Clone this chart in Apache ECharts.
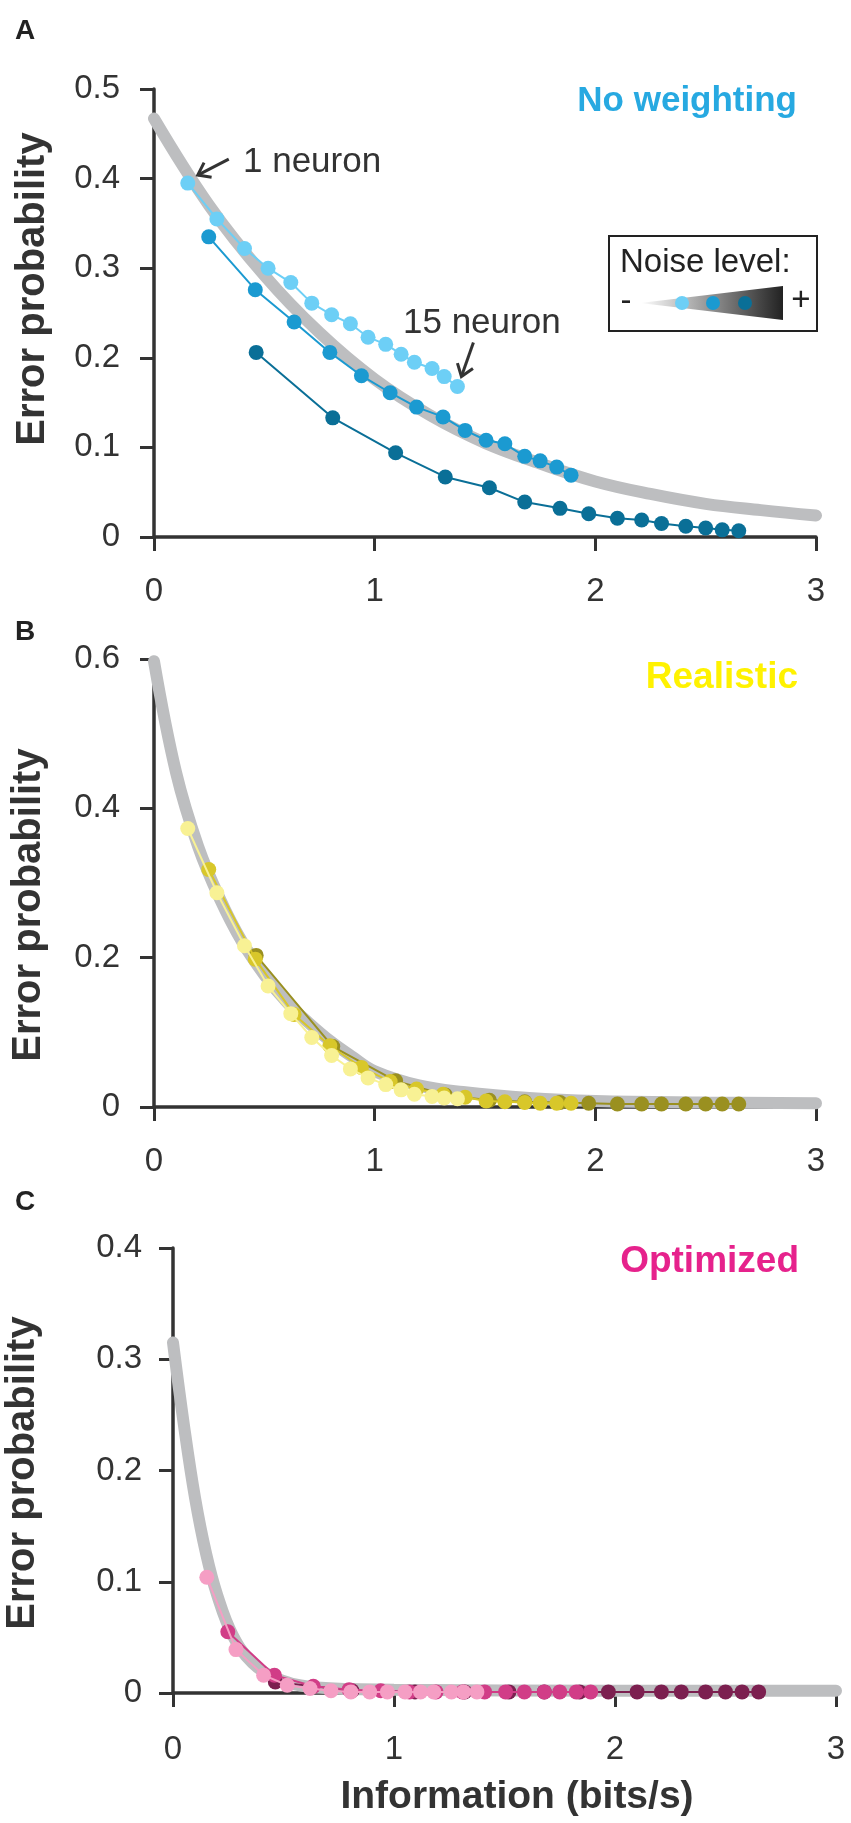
<!DOCTYPE html>
<html>
<head>
  <meta charset="utf-8">
  <title>Error probability vs information</title>
  <script src="https://cdn.jsdelivr.net/npm/echarts@6.0.0/dist/echarts.min.js"></script>
  <style>html, body { margin: 0; padding: 0; background: #fff; }</style>
</head>
<body>
  <div id="main" style="width:851px; height:1823px;"></div>
  <script type="text/javascript">
    // information (bits/s) of each population size, per noise level
    const xLow = [0.153, 0.285, 0.41, 0.517, 0.62, 0.715, 0.805, 0.89, 0.97, 1.05, 1.12, 1.18, 1.26, 1.315, 1.375];
    const xMid = [0.248, 0.459, 0.635, 0.797, 0.94, 1.07, 1.19, 1.31, 1.41, 1.505, 1.59, 1.68, 1.75, 1.825, 1.89];
    const xHigh = [0.463, 0.81, 1.095, 1.32, 1.52, 1.68, 1.84, 1.97, 2.10, 2.21, 2.30, 2.41, 2.50, 2.575, 2.65];

    // A: no weighting
    const aLow = [0.395, 0.355, 0.322, 0.300, 0.284, 0.261, 0.248, 0.238, 0.223, 0.215, 0.204, 0.195, 0.188, 0.179, 0.168];
    const aMid = [0.335, 0.276, 0.240, 0.206, 0.180, 0.161, 0.145, 0.134, 0.119, 0.108, 0.104, 0.090, 0.085, 0.078, 0.069];
    const aHigh = [0.206, 0.133, 0.094, 0.067, 0.055, 0.039, 0.032, 0.026, 0.021, 0.019, 0.015, 0.012, 0.010, 0.008, 0.007];
    const aGrayX = [0, 0.25, 0.5, 0.75, 1, 1.25, 1.5, 1.75, 2, 2.25, 2.5, 2.75, 3];
    const aGrayY = [0.467, 0.37, 0.292, 0.228, 0.176, 0.136, 0.105, 0.082, 0.062, 0.048, 0.037, 0.030, 0.024];

    // B: realistic
    const bLow = [0.373, 0.287, 0.216, 0.162, 0.125, 0.093, 0.069, 0.051, 0.039, 0.030, 0.023, 0.017, 0.014, 0.012, 0.011];
    const bMid = [0.318, 0.198, 0.124, 0.082, 0.053, 0.034, 0.024, 0.017, 0.013, 0.008, 0.007, 0.006, 0.005, 0.005, 0.005];
    const bHigh = [0.203, 0.081, 0.035, 0.016, 0.009, 0.007, 0.006, 0.005, 0.004, 0.004, 0.004, 0.004, 0.004, 0.004, 0.004];
    const bGrayX = [0, 0.1, 0.2, 0.3, 0.4, 0.5, 0.6, 0.7, 0.8, 0.9, 1.0, 1.2, 1.4, 1.7, 2.0, 2.5, 3.0];
    const bGrayY = [0.597, 0.448, 0.349, 0.278, 0.221, 0.177, 0.141, 0.113, 0.088, 0.067, 0.048, 0.029, 0.020, 0.012, 0.008, 0.006, 0.005];

    // C: optimized
    const cLow = [0.104, 0.039, 0.016, 0.007, 0.004, 0.002, 0.001, 0.001, 0.001, 0.001, 0.001, 0.001, 0.001, 0.001, 0.001];
    const cMid = [0.055, 0.016, 0.006, 0.003, 0.002, 0.001, 0.001, 0.001, 0.001, 0.001, 0.001, 0.001, 0.001, 0.001, 0.001];
    const cHigh = [0.010, 0.002, 0.001, 0.001, 0.001, 0.001, 0.001, 0.001, 0.001, 0.001, 0.001, 0.001, 0.001, 0.001, 0.001];
    const cGrayX = [0, 0.05, 0.1, 0.15, 0.2, 0.27, 0.36, 0.47, 0.65, 1.0, 2.0, 3.0];
    const cGrayY = [0.315, 0.24, 0.175, 0.125, 0.088, 0.052, 0.027, 0.013, 0.005, 0.003, 0.002, 0.002];

    const yMax = [0.5, 0.6, 0.4];
    const yStep = [0.1, 0.2, 0.1];
    const xTicks = [0, 1, 2, 3];

    const blues = ['#6DCFF6', '#1B9AD1', '#0A6F97'];
    const yellows = ['#F8F194', '#D8C72A', '#9A9020'];
    const pinks = ['#F59EC4', '#D13D87', '#7C2050'];
    const gray = '#BDBEC0';
    const ink = '#333333';
    const font = 'Arial, "Liberation Sans", Helvetica, sans-serif';

    const zip = (xs, ys) => xs.map((x, i) => [x, ys[i]]);

    const grids = [
      { left: 154, width: 662, top: 89, height: 448 },
      { left: 154, width: 662, top: 659, height: 448 },
      { left: 173, width: 663, top: 1248, height: 445 }
    ];

    const xAxes = grids.map((g, i) => ({
      gridIndex: i,
      type: 'value',
      min: 0,
      max: 3,
      interval: 1,
      axisLine: { show: true, lineStyle: { color: ink, width: 3.5 } },
      axisTick: { show: true, length: 14, lineStyle: { color: ink, width: 3 } },
      axisLabel: { margin: i === 2 ? 40 : 38, fontSize: 33, color: ink, fontFamily: font,
        formatter: v => xTicks.includes(v) ? String(v) : '' },
      splitLine: { show: false }
    }));

    const yAxes = grids.map((g, i) => ({
      gridIndex: i,
      type: 'value',
      min: 0,
      max: yMax[i],
      interval: yStep[i],
      axisLine: { show: true, lineStyle: { color: ink, width: 3.5 } },
      axisTick: { show: true, length: 14, lineStyle: { color: ink, width: 3 } },
      axisLabel: { margin: i === 2 ? 31 : 34, fontSize: 33, color: ink, fontFamily: font },
      splitLine: { show: false }
    }));

    const grayCurve = (i, xs, ys) => ({
      type: 'line', xAxisIndex: i, yAxisIndex: i,
      data: zip(xs, ys), smooth: 0.4, symbol: 'none', clip: false, z: 1,
      lineStyle: { color: gray, width: 12, cap: 'round' }
    });

    const dotted = (i, xs, ys, color, z) => ({
      type: 'line', xAxisIndex: i, yAxisIndex: i,
      data: zip(xs, ys), symbol: 'circle', symbolSize: 15, clip: false, z: z,
      itemStyle: { color: color },
      lineStyle: { color: color, width: 2 }
    });

    const panels = [
      [aLow, aMid, aHigh, aGrayX, aGrayY, blues],
      [bLow, bMid, bHigh, bGrayX, bGrayY, yellows],
      [cLow, cMid, cHigh, cGrayX, cGrayY, pinks]
    ];

    const series = [];
    panels.forEach(([lo, mi, hi, gx, gy, cols], i) => {
      series.push(grayCurve(i, gx, gy));
      series.push(dotted(i, xHigh, hi, cols[2], 2));
      series.push(dotted(i, xMid, mi, cols[1], 3));
      series.push(dotted(i, xLow, lo, cols[0], 4));
    });

    const chart = echarts.init(document.getElementById('main'), null, { renderer: 'canvas' });
    chart.setOption({
      animation: false,
      backgroundColor: '#fff',
      grid: grids,
      xAxis: xAxes,
      yAxis: yAxes,
      series: series
    });

    // annotation helpers
    const txt = (text, x, y, size, color, opts = {}) => ({
      type: 'text', x: x, y: y, rotation: opts.rotation || 0, z: 20,
      style: { text: text, fontSize: size, fontWeight: opts.bold ? 'bold' : 'normal', fontFamily: font,
        fill: color, align: opts.align || 'center', verticalAlign: 'middle' }
    });

    const arrow = (from, to) => {
      const dx = from[0] - to[0], dy = from[1] - to[1];
      const len = Math.hypot(dx, dy);
      const bx = dx / len, by = dy / len;
      const a = 36 * Math.PI / 180, h = 14;
      const p1 = [to[0] + h * (bx * Math.cos(a) - by * Math.sin(a)), to[1] + h * (bx * Math.sin(a) + by * Math.cos(a))];
      const p2 = [to[0] + h * (bx * Math.cos(a) + by * Math.sin(a)), to[1] + h * (-bx * Math.sin(a) + by * Math.cos(a))];
      return [
        { type: 'line', z: 20, shape: { x1: from[0], y1: from[1], x2: to[0], y2: to[1] },
          style: { stroke: ink, lineWidth: 3 } },
        { type: 'polyline', z: 20, shape: { points: [p1, to, p2] },
          style: { stroke: ink, lineWidth: 3, fill: null, lineJoin: 'miter' } }
      ];
    };

    // anchor arrows to the first and last point of the 1-15 neuron curve
    const first = chart.convertToPixel({ xAxisIndex: 0, yAxisIndex: 0 }, [xLow[0], aLow[0]]);
    const last = chart.convertToPixel({ xAxisIndex: 0, yAxisIndex: 0 }, [xLow[14], aLow[14]]);
    const tip1 = [first[0] + 10, first[1] - 8];
    const tip2 = [last[0] + 4, last[1] - 10];

    const graphics = [
      txt('A', 25, 31, 28, '#222', { bold: true }),
      txt('B', 25, 632, 28, '#222', { bold: true }),
      txt('C', 25, 1202, 28, '#222', { bold: true }),
      txt('Error probability', 33, 289, 40, ink, { bold: true, rotation: Math.PI / 2 }),
      txt('Error probability', 29, 905, 40, ink, { bold: true, rotation: Math.PI / 2 }),
      txt('Error probability', 23, 1473, 40, ink, { bold: true, rotation: Math.PI / 2 }),
      txt('Information (bits/s)', 517, 1797, 39, ink, { bold: true }),
      txt('No weighting', 797, 101, 35, '#27A9E1', { bold: true, align: 'right' }),
      txt('Realistic', 798, 678, 37, '#FFF200', { bold: true, align: 'right' }),
      txt('Optimized', 799, 1262, 37, '#E6228C', { bold: true, align: 'right' }),
      txt('1 neuron', 243, 162, 35, ink, { align: 'left' }),
      txt('15 neuron', 403, 323, 35, ink, { align: 'left' }),
      ...arrow([tip1[0] + 31, tip1[1] - 16], tip1),
      ...arrow([tip2[0] + 12, tip2[1] - 34], tip2),
      // noise level key
      { type: 'rect', z: 20, shape: { x: 609, y: 236, width: 208, height: 95 },
        style: { fill: '#fff', stroke: '#222', lineWidth: 2 } },
      txt('Noise level:', 620, 263, 33, '#222', { align: 'left' }),
      txt('-', 626, 302, 33, '#222'),
      txt('+', 801, 301, 33, '#222'),
      { type: 'polygon', z: 21, shape: { points: [[640, 303], [783, 286], [783, 320]] },
        style: { fill: new echarts.graphic.LinearGradient(0, 0, 1, 0, [
          { offset: 0, color: '#ffffff' }, { offset: 1, color: '#222222' }]) } },
      { type: 'circle', z: 22, shape: { cx: 682, cy: 303, r: 7 }, style: { fill: blues[0] } },
      { type: 'circle', z: 22, shape: { cx: 713, cy: 303, r: 7 }, style: { fill: blues[1] } },
      { type: 'circle', z: 22, shape: { cx: 745, cy: 303, r: 7 }, style: { fill: blues[2] } }
    ];

    chart.setOption({ graphic: graphics });
  </script>
</body>
</html>
